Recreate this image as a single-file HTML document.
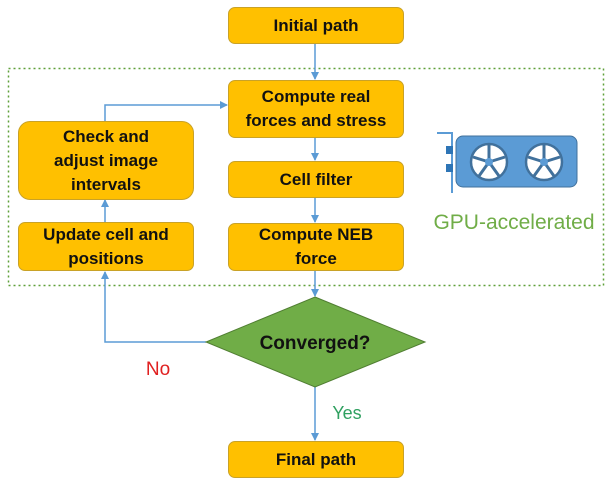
<!DOCTYPE html>
<html><head><style>
body{margin:0;width:616px;height:488px;background:#fff;position:relative;overflow:hidden;font-family:"Liberation Sans",sans-serif}
.b{position:absolute;background:#FFC000;border:1px solid #C9A227;border-radius:7px;display:flex;align-items:center;justify-content:center;text-align:center;font-weight:bold;font-size:17px;line-height:24px;color:#111;box-sizing:border-box}
</style></head><body>
<svg width="616" height="488" style="position:absolute;left:0;top:0">
<defs><marker id="a" markerWidth="8" markerHeight="8" refX="7" refY="4" orient="auto" markerUnits="userSpaceOnUse"><path d="M0,0 L8,4 L0,8z" fill="#5B9BD5"/></marker></defs>
<rect x="8.5" y="68.5" width="595" height="217" fill="none" stroke="#5FA03A" stroke-width="1.5" stroke-dasharray="2,3"/>
<g stroke="#5B9BD5" stroke-width="1.5" fill="none">
<line x1="315" y1="43" x2="315" y2="79" marker-end="url(#a)"/>
<line x1="315" y1="138" x2="315" y2="160" marker-end="url(#a)"/>
<line x1="315" y1="197" x2="315" y2="222" marker-end="url(#a)"/>
<line x1="315" y1="270" x2="315" y2="296" marker-end="url(#a)"/>
<line x1="315" y1="387" x2="315" y2="440" marker-end="url(#a)"/>
<polyline points="206,342 105,342 105,272" marker-end="url(#a)"/>
<line x1="105" y1="222" x2="105" y2="200" marker-end="url(#a)"/>
<polyline points="105,121 105,105 227,105" marker-end="url(#a)"/>
</g>
<polygon points="315,297 425,342 315,387 206,342" fill="#70AD47" stroke="#507E32" stroke-width="1"/>
<text x="315" y="349" text-anchor="middle" font-family="Liberation Sans" font-weight="bold" font-size="19" fill="#111">Converged?</text>
<text x="158" y="375" text-anchor="middle" font-family="Liberation Sans" font-size="19" fill="#E02020">No</text>
<text x="347" y="419" text-anchor="middle" font-family="Liberation Sans" font-size="18" fill="#2FA060">Yes</text>
<text x="514" y="229" text-anchor="middle" font-family="Liberation Sans" font-size="21" fill="#70AD47">GPU-accelerated</text>
<polyline points="437,133 452,133 452,193" fill="none" stroke="#5B9BD5" stroke-width="2"/>
<rect x="446" y="146" width="7" height="8" fill="#2E75B6"/><rect x="446" y="164" width="7" height="8" fill="#2E75B6"/>
<rect x="456" y="136" width="121" height="51" rx="7" fill="#5B9BD5" stroke="#41719C"/>
<g fill="#fff" stroke="#41719C" stroke-width="2.5">
<circle cx="489" cy="162" r="18"/><circle cx="544" cy="162" r="18"/></g>
<g stroke="#41719C" stroke-width="3">
<path d="M489,162 L489,145 M489,162 L505,157 M489,162 L499,176 M489,162 L479,176 M489,162 L473,157"/>
<path d="M544,162 L544,145 M544,162 L560,157 M544,162 L554,176 M544,162 L534,176 M544,162 L528,157"/></g>
<circle cx="489" cy="162" r="4" fill="#5B9BD5"/><circle cx="544" cy="162" r="4" fill="#5B9BD5"/>
</svg>
<div class="b" style="left:228px;top:7px;width:176px;height:37px">Initial path</div>
<div class="b" style="left:228px;top:80px;width:176px;height:58px">Compute real<br>forces and stress</div>
<div class="b" style="left:228px;top:161px;width:176px;height:37px">Cell filter</div>
<div class="b" style="left:228px;top:223px;width:176px;height:48px">Compute NEB<br>force</div>
<div class="b" style="left:18px;top:121px;width:176px;height:79px;border-radius:12px">Check and<br>adjust image<br>intervals</div>
<div class="b" style="left:18px;top:222px;width:176px;height:49px">Update cell and<br>positions</div>
<div class="b" style="left:228px;top:441px;width:176px;height:37px">Final path</div>
</body></html>
